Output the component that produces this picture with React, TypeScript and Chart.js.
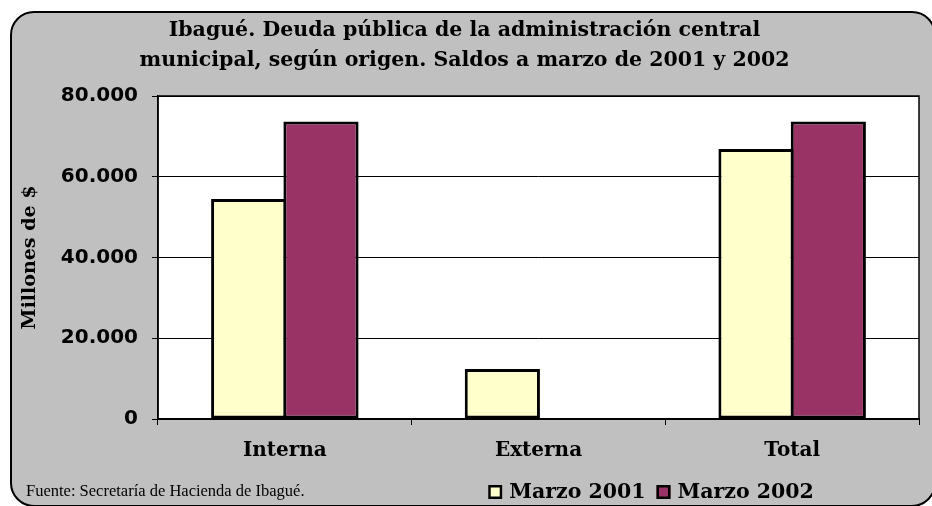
import React, { useEffect, useRef } from "react";
import { Chart, registerables } from "chart.js";

Chart.register(...registerables);

const categories = ["Interna", "Externa", "Total"];
const marzo2001 = [54500, 12400, 66900];
const marzo2002 = [73700, 0, 73700];
const seriesLabels = ["Marzo 2001", "Marzo 2002"];
const seriesColors = ["#FFFFCC", "#993366"];
const yTickValues = [0, 20000, 40000, 60000, 80000];
const titleLines = [
  "Ibagué. Deuda pública de la administración central",
  "municipal, según origen. Saldos a marzo de 2001 y 2002",
];
const yAxisTitle = "Millones de $";
const sourceNote = "Fuente: Secretaría de Hacienda de Ibagué.";

const fmt = (v: number) => String(v).replace(/\B(?=(\d{3})+(?!\d))/g, ".");

const SERIF = "'DejaVu Serif', 'Liberation Serif', serif";
const SANS = "'DejaVu Sans', 'Liberation Sans', sans-serif";

const framePlugin = {
  id: "frame",
  beforeDraw(chart: any) {
    const { ctx, chartArea } = chart;
    ctx.save();
    ctx.fillStyle = "#ffffff";
    ctx.fillRect(chartArea.left, chartArea.top, chartArea.width, chartArea.height);
    ctx.restore();
  },
  beforeDatasetsDraw(chart: any) {
    const { ctx, chartArea } = chart;
    ctx.save();
    ctx.strokeStyle = "#000";
    ctx.lineWidth = 1.5;
    ctx.strokeRect(chartArea.left, chartArea.top, chartArea.width, chartArea.height);
    ctx.restore();
  },
  afterDraw(chart: any) {
    const { ctx } = chart;
    ctx.save();
    // footer note
    ctx.fillStyle = "#000";
    ctx.font = "16.5px 'Liberation Serif', serif";
    ctx.textBaseline = "middle";
    ctx.textAlign = "left";
    ctx.fillText(sourceNote, 26, 492);
    // legend
    ctx.font = `bold 20.5px ${SERIF}`;
    const box = 14;
    const gapBoxText = 7;
    const gapItems = 11;
    const items = chart.data.datasets.map((d: any) => ({
      label: d.label,
      color: d.backgroundColor,
      w: ctx.measureText(d.label).width,
    }));
    const total =
      items.reduce((s: number, it: any) => s + box + gapBoxText + it.w, 0) +
      gapItems * (items.length - 1);
    let x = 651 - total / 2;
    const cy = 492;
    items.forEach((it: any) => {
      ctx.fillStyle = it.color;
      ctx.fillRect(x, cy - box / 2, box, box);
      ctx.strokeStyle = "#000";
      ctx.lineWidth = 2.5;
      ctx.strokeRect(x + 1.25, cy - box / 2 + 1.25, box - 2.5, box - 2.5);
      ctx.fillStyle = "#000";
      ctx.fillText(it.label, x + box + gapBoxText, cy + 1);
      x += box + gapBoxText + it.w + gapItems;
    });
    ctx.restore();
  },
};

export default function App() {
  const ref = useRef<HTMLCanvasElement | null>(null);

  useEffect(() => {
    if (!ref.current) return;
    const chart = new Chart(ref.current, {
      type: "bar",
      data: {
        labels: categories,
        datasets: [
          {
            label: seriesLabels[0],
            data: marzo2001,
            backgroundColor: seriesColors[0],
            borderColor: "#000",
            borderWidth: 3,
            borderSkipped: false,
          },
          {
            label: seriesLabels[1],
            data: marzo2002,
            backgroundColor: seriesColors[1],
            borderColor: "#000",
            borderWidth: 3,
            borderSkipped: false,
          },
        ],
      },
      options: {
        responsive: false,
        animation: false,
        devicePixelRatio: 1,
        layout: { padding: { top: 16, left: 10, right: 13, bottom: 0 } },
        datasets: {
          bar: { categoryPercentage: 0.57, barPercentage: 1.04 },
        },
        plugins: {
          legend: { display: false },
          tooltip: { enabled: false },
          title: {
            display: true,
            text: titleLines,
            color: "#000",
            font: { family: SERIF, weight: "bold", size: 20.5, lineHeight: "30px" },
            padding: { top: 0, bottom: 20 },
          },
        },
        scales: {
          x: {
            grid: {
              display: true,
              drawOnChartArea: false,
              drawTicks: true,
              tickLength: 6,
              color: "#000",
              lineWidth: 1,
            },
            border: { display: true, color: "#000", width: 1.5 },
            ticks: {
              color: "#000",
              padding: 14,
              font: { family: SERIF, weight: "bold", size: 20 },
            },
            afterFit(scale: any) {
              scale.height = 87;
            },
          },
          y: {
            min: 0,
            max: 80000,
            afterBuildTicks(scale: any) {
              scale.ticks = yTickValues.map((v) => ({ value: v }));
            },
            grid: {
              color: "#000",
              lineWidth: 1,
              drawTicks: true,
              tickLength: 6,
            },
            border: { display: true, color: "#000", width: 1.5 },
            ticks: {
              color: "#000",
              padding: 14,
              font: { family: SANS, weight: "bold", size: 20 },
              callback: (v: any) => fmt(Number(v)),
            },
            title: {
              display: true,
              text: yAxisTitle,
              color: "#000",
              font: { family: SERIF, weight: "bold", size: 19 },
              padding: { top: 9, bottom: 0 },
            },
            afterFit(scale: any) {
              scale.width = 148;
            },
          },
        },
      },
      plugins: [framePlugin],
    });
    return () => chart.destroy();
  }, []);

  return (
    <div
      style={{
        position: "fixed",
        left: 0,
        top: 0,
        width: 932,
        height: 506,
        overflow: "hidden",
        background: "#ffffff",
      }}
    >
      <div
        style={{
          position: "absolute",
          left: 10,
          top: 11,
          width: 922,
          height: 492,
          background: "#C0C0C0",
          border: "2px solid #000",
          borderRadius: 24,
        }}
      />
      <canvas
        ref={ref}
        width={932}
        height={506}
        style={{ position: "absolute", left: 0, top: 0, width: 932, height: 506 }}
      />
    </div>
  );
}
